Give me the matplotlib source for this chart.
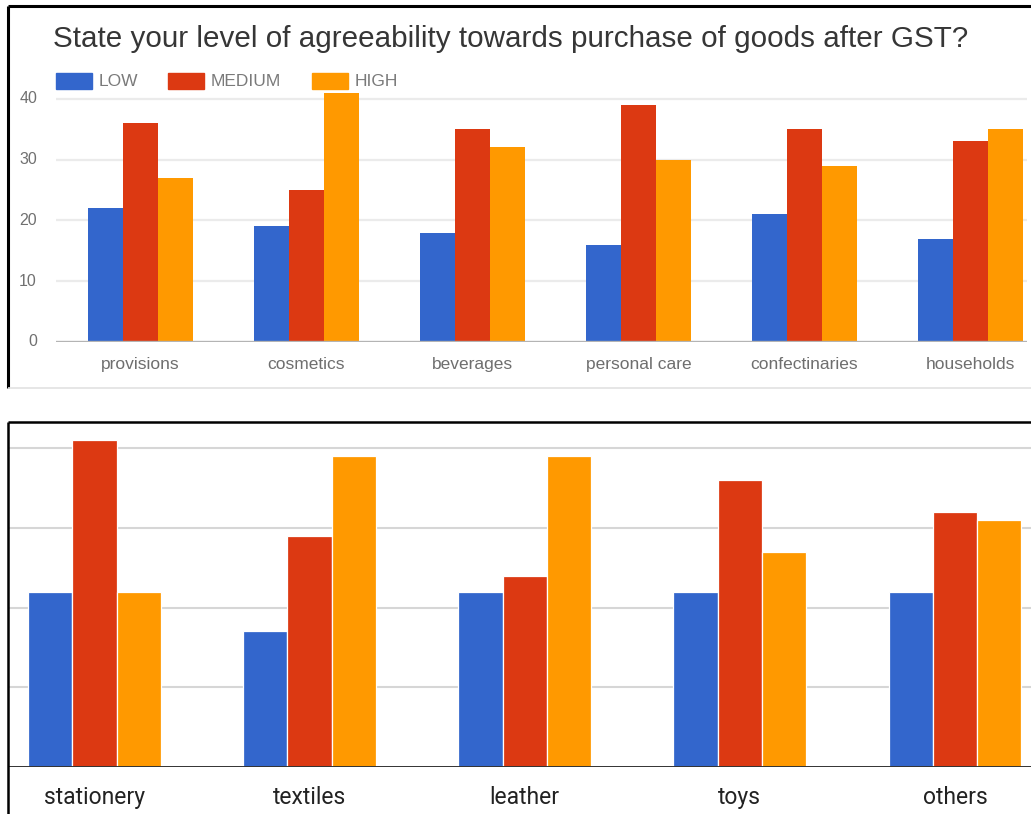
import matplotlib
matplotlib.use("Agg")
import matplotlib.pyplot as plt
from matplotlib.lines import Line2D
from matplotlib.patches import Rectangle
import numpy as np

# ---------------- data ----------------
title = "State your level of agreeability towards purchase of goods after GST?"
series_names = ["LOW", "MEDIUM", "HIGH"]
colors = ["#3366cc", "#dc3912", "#ff9900"]

top_categories = ["provisions", "cosmetics", "beverages", "personal care",
                  "confectinaries", "households"]
top_low = [22, 19, 18, 16, 21, 17]
top_medium = [36, 25, 35, 39, 35, 33]
top_high = [27, 41, 32, 30, 29, 35]
top_yticks = [0, 10, 20, 30, 40]

bottom_categories = ["stationery", "textiles", "leather", "toys", "others"]
bottom_low = [22, 17, 22, 22, 22]
bottom_medium = [41, 29, 24, 36, 32]
bottom_high = [22, 39, 39, 27, 31]
bottom_grid = [10, 20, 30, 40]

# ---------------- figure ----------------
W, H = 1031, 814
fig = plt.figure(figsize=(W / 100, H / 100), dpi=100)
fig.patch.set_facecolor("white")


def fx(x):
    return x / W


def fy(y):
    return 1 - y / H


def axes_px(left, top, right, bottom):
    return fig.add_axes([fx(left), fy(bottom), (right - left) / W, (bottom - top) / H])


def hline(y, x0, x1, color, lw):
    fig.add_artist(Line2D([fx(x0), fx(x1)], [fy(y), fy(y)], color=color, lw=lw,
                          transform=fig.transFigure, solid_capstyle="butt"))


def vline(x, y0, y1, color, lw):
    fig.add_artist(Line2D([fx(x), fx(x)], [fy(y0), fy(y1)], color=color, lw=lw,
                          transform=fig.transFigure, solid_capstyle="butt"))


sans = ["Liberation Sans", "DejaVu Sans"]

# ---------------- top panel ----------------
top_scale = (342 - 98.7) / 40.0
top_ymax = 44
ax1 = axes_px(56, 342 - top_ymax * top_scale, 1027, 342)
top_vals = [top_low, top_medium, top_high]
bw1 = 0.21
x1 = np.arange(len(top_categories))
for i, (vals, c) in enumerate(zip(top_vals, colors)):
    ax1.bar(x1 + (i - 1) * bw1, vals, width=bw1, color=c, zorder=3, linewidth=0)
ax1.set_xlim((56 - 140.5) / 166, (1027 - 140.5) / 166)
ax1.set_ylim(0, top_ymax)
for t in top_yticks[1:]:
    ax1.axhline(t, color="#ebebeb", lw=1.6, zorder=1)
ax1.axhline(0, color="#b4b4b4", lw=2.4, zorder=4)
for s in ax1.spines.values():
    s.set_visible(False)
ax1.set_xticks(x1)
ax1.set_xticklabels(top_categories, fontsize=12.5, color="#6e6e6e", family=sans)
ax1.tick_params(axis="x", length=0, pad=11)
ax1.set_yticks([])
for t in top_yticks:
    fig.text(fx(37), fy(342 - t * top_scale), str(t), ha="right", va="center",
             fontsize=11.5, color="#707070", family=sans)

# title
fig.text(fx(53), fy(39), title, ha="left", va="center", fontsize=21.3,
         color="#363636", family=sans)

# legend (manual)
leg_x = [56, 168, 312]
for name, c, lx in zip(series_names, colors, leg_x):
    fig.add_artist(Rectangle((fx(lx), fy(89)), 36 / W, 16 / H, color=c,
                             transform=fig.transFigure))
    fig.text(fx(lx + 43), fy(81), name, ha="left", va="center", fontsize=12.5,
             color="#7a7a7a", family=sans)

# top panel frame
vline(8, 6, 388, "black", 2.2)
hline(6, 8, 1031, "black", 2.2)
hline(388, 8, 1031, "#e2e2e2", 1.2)

# ---------------- bottom panel ----------------
bot_scale = (766.7 - 448.3) / 40.0
bot_ymax = (766.7 - 422.3) / bot_scale
ax2 = axes_px(8, 422.3, 1031, 766.7)
bot_vals = [bottom_low, bottom_medium, bottom_high]
bw2 = 0.2055
x2 = np.arange(len(bottom_categories))
for i, (vals, c) in enumerate(zip(bot_vals, colors)):
    ax2.bar(x2 + (i - 1) * bw2, vals, width=bw2, color=c, zorder=3,
            edgecolor="white", linewidth=0.9)
ax2.set_xlim((8 - 94.5) / 215.1, (1031 - 94.5) / 215.1)
ax2.set_ylim(0, bot_ymax)
for t in bottom_grid:
    ax2.axhline(t, color="#d6d6d6", lw=1.5, zorder=1)
for s in ax2.spines.values():
    s.set_visible(False)
ax2.axhline(0, color="#333333", lw=1.4, zorder=4)
ax2.set_xticks(x2)
ax2.set_xticklabels(bottom_categories, fontsize=16.5, color="#222222",
                    family=["Roboto", "DejaVu Sans"])
ax2.tick_params(axis="x", length=0, pad=14)
ax2.set_yticks([])

# bottom panel frame
hline(422, 8, 1031, "black", 1.8)
vline(8, 422, 814, "black", 1.8)

fig.savefig("out.png", dpi=100, facecolor="white")
